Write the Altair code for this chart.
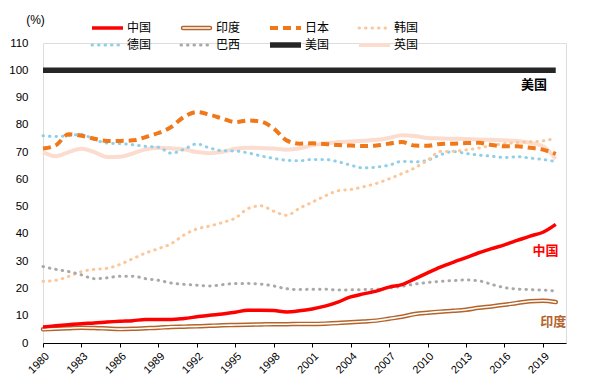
import altair as alt
import pandas as pd

years = list(range(1980, 2021))

china = [5.9, 6.3, 6.7, 7.1, 7.3, 7.7, 8.0, 8.2, 8.6, 8.6,
         8.6, 9.0, 9.6, 10.2, 10.6, 11.3, 12.0, 12.0, 11.9, 11.4,
         11.8, 12.5, 13.5, 15.0, 16.9, 18.0, 19.0, 20.5, 21.4, 23.5,
         25.7, 27.8, 29.6, 31.3, 33.1, 34.6, 36.0, 37.6, 39.2, 40.6, 43.5]
india = [5.0, 5.2, 5.4, 5.6, 5.5, 5.3, 5.1, 5.2, 5.4, 5.6,
         5.9, 6.0, 6.1, 6.3, 6.5, 6.6, 6.7, 6.8, 6.9, 6.9,
         7.0, 7.0, 7.1, 7.3, 7.6, 7.9, 8.2, 8.9, 9.6, 10.6,
         11.1, 11.5, 11.8, 12.2, 12.9, 13.4, 14.0, 14.7, 15.3, 15.5, 15.0]
japan = [71.3, 72.5, 76.5, 76.0, 74.9, 74.1, 74.1, 74.3, 75.5, 77.0,
         79.2, 82.9, 84.7, 83.7, 82.3, 81.0, 81.6, 81.2, 78.6, 74.3,
         73.1, 73.2, 73.0, 72.6, 72.4, 72.2, 72.4, 73.1, 73.7, 72.4,
         72.3, 73.0, 73.1, 73.3, 73.4, 72.6, 72.1, 72.1, 71.6, 70.9, 69.3]
korea = [22.6, 23.0, 24.4, 26.2, 27.0, 27.4, 28.8, 30.9, 33.0, 34.6,
         36.4, 39.6, 41.8, 42.9, 44.2, 45.8, 49.3, 50.3, 48.3, 46.8,
         49.4, 51.6, 53.9, 55.8, 56.3, 57.3, 58.5, 60.2, 62.1, 64.2,
         67.0, 70.2, 70.3, 70.8, 71.5, 72.4, 73.1, 73.5, 73.8, 74.1, 75.1]
germany = [76.0, 75.7, 76.0, 76.5, 74.6, 73.3, 73.1, 72.7, 72.1, 71.8,
           69.6, 71.0, 73.0, 71.5, 70.5, 70.4, 69.7, 68.6, 67.7, 67.0,
           66.8, 67.3, 67.3, 66.5, 65.2, 64.2, 64.5, 65.2, 66.6, 66.4,
           67.0, 69.0, 70.2, 69.5, 68.9, 68.5, 68.0, 68.3, 67.8, 67.3, 66.5]
brazil = [28.0, 27.0, 26.2, 25.0, 23.6, 23.9, 24.5, 24.5, 23.6, 23.0,
          22.0, 21.5, 21.2, 20.9, 21.4, 21.8, 21.8, 21.6, 20.9, 19.9,
          19.6, 19.7, 19.7, 19.4, 19.5, 19.6, 19.7, 20.2, 20.8, 21.6,
          22.2, 22.6, 22.9, 23.1, 22.8, 21.5, 20.3, 19.8, 19.6, 19.4, 19.1]
usa = [100.0] * 41
uk = [70.0, 68.5, 70.0, 71.2, 70.0, 68.2, 68.3, 69.5, 71.0, 71.6,
      71.4, 71.0, 70.0, 69.6, 70.1, 71.2, 71.6, 71.5, 71.3, 70.9,
      71.3, 72.5, 73.1, 73.7, 73.9, 74.2, 74.5, 75.2, 76.2, 75.9,
      75.2, 75.0, 74.9, 74.8, 74.6, 74.5, 74.3, 74.1, 73.4, 72.1, 67.5]

tick_years = list(range(1980, 2020, 3))
y_ticks = list(range(0, 111, 10))

ann_names = ["美国", "中国", "印度"]
ann_x = [2018.3, 2019.2, 2019.8]
ann_y = [94.5, 33.6, 7.6]

FONT = "Liberation Sans"
CJK = "Noto Sans CJK SC"

X = alt.X("year:Q", scale=alt.Scale(domain=[1980, 2020.8], nice=False, zero=False),
          axis=alt.Axis(values=tick_years, format="d", labelAngle=-45, labelFontSize=11,
                        labelFont=FONT, labelColor="#000000", domainColor="#000000",
                        tickColor="#000000", tickSize=4, grid=False, title=None,
                        labelOverlap=False, labelFlush=False, labelPadding=3))
Y = alt.Y("value:Q", scale=alt.Scale(domain=[0, 110], nice=False),
          axis=alt.Axis(values=y_ticks, grid=False, domain=False, ticks=False,
                        labelPadding=15, labelFontSize=11.5, labelFont=FONT,
                        labelOverlap=False, labelFlush=False, labelBound=False,
                        labelColor="#000000", title="(%)", titleAngle=0,
                        titleX=-8, titleY=-24, titleFontWeight="normal",
                        titleFontSize=12, titleFont=FONT, titleColor="#000000",
                        titleAlign="center", titleBaseline="middle"))

styles = {
    "中国": [dict(color="#FF0000", strokeWidth=3.5)],
    "印度": [dict(color="#B4642A", strokeWidth=4.5, strokeCap="round"),
           dict(color="#FFFFFF", strokeWidth=1.6, strokeCap="round")],
    "日本": [dict(color="#F07818", strokeWidth=4, strokeDash=[8, 5])],
    "韩国": [dict(color="#FCC697", strokeWidth=3, strokeDash=[0.5, 6], strokeCap="round")],
    "德国": [dict(color="#8FCFE8", strokeWidth=3, strokeDash=[0.5, 6], strokeCap="round")],
    "巴西": [dict(color="#A9A9A9", strokeWidth=3, strokeDash=[0.5, 6], strokeCap="round")],
    "美国": [dict(color="#262626", strokeWidth=5.5)],
    "英国": [dict(color="#FBDCCF", strokeWidth=4)],
}
values = {"中国": china, "印度": india, "日本": japan, "韩国": korea,
          "德国": germany, "巴西": brazil, "美国": usa, "英国": uk}

draw_order = ["英国", "美国", "德国", "韩国", "巴西", "日本", "印度", "中国"]
legend_order = ["中国", "印度", "日本", "韩国", "德国", "巴西", "美国", "英国"]

layers = []
for name in draw_order:
    df = pd.DataFrame({"year": years, "value": values[name]})
    for st in styles[name]:
        layers.append(alt.Chart(df).mark_line(interpolate="monotone", **st).encode(x=X, y=Y))

# custom legend
col_x = [49, 138, 227, 316]
row_y = [-15, 2]
for i, name in enumerate(legend_order):
    cx = col_x[i % 4]
    ry = row_y[i // 4]
    sts = styles[name]
    for j, st in enumerate(sts):
        st2 = dict(st)
        if "strokeCap" not in st2:
            st2["strokeCap"] = "butt"
        x0 = cx + (2 if name == "印度" else 0)
        x1 = cx + (29 if name == "印度" else 31)
        layers.append(alt.Chart(pd.DataFrame({"a": [0]})).mark_rule(**st2).encode(
            x=alt.value(x0), x2=alt.value(x1), y=alt.value(ry)))
    layers.append(alt.Chart(pd.DataFrame({"a": [0]})).mark_text(
        text=name, font=CJK, fontSize=12, align="left", baseline="middle", color="#000000"
    ).encode(x=alt.value(cx + 35), y=alt.value(ry)))

ann_df = pd.DataFrame({"name": ann_names, "year": ann_x, "value": ann_y})
ann_colors = {"美国": "#000000", "中国": "#FF0000", "印度": "#B4642A"}
for n in ann_names:
    layers.append(alt.Chart(ann_df).transform_filter(alt.datum.name == n).mark_text(
        font=CJK, fontSize=13, fontWeight="bold", color=ann_colors[n],
        align="center", baseline="middle"
    ).encode(x=X, y=Y, text="name:N"))

chart = alt.layer(*layers).properties(
    width=523, height=300,
    autosize=alt.AutoSizeParams(type="none"),
    padding={"left": 35, "top": 35, "right": 15, "bottom": 40},
).configure_view(stroke=None).configure(background="white")

chart.save("out.html", embed_options={"renderer": "svg", "actions": False})
